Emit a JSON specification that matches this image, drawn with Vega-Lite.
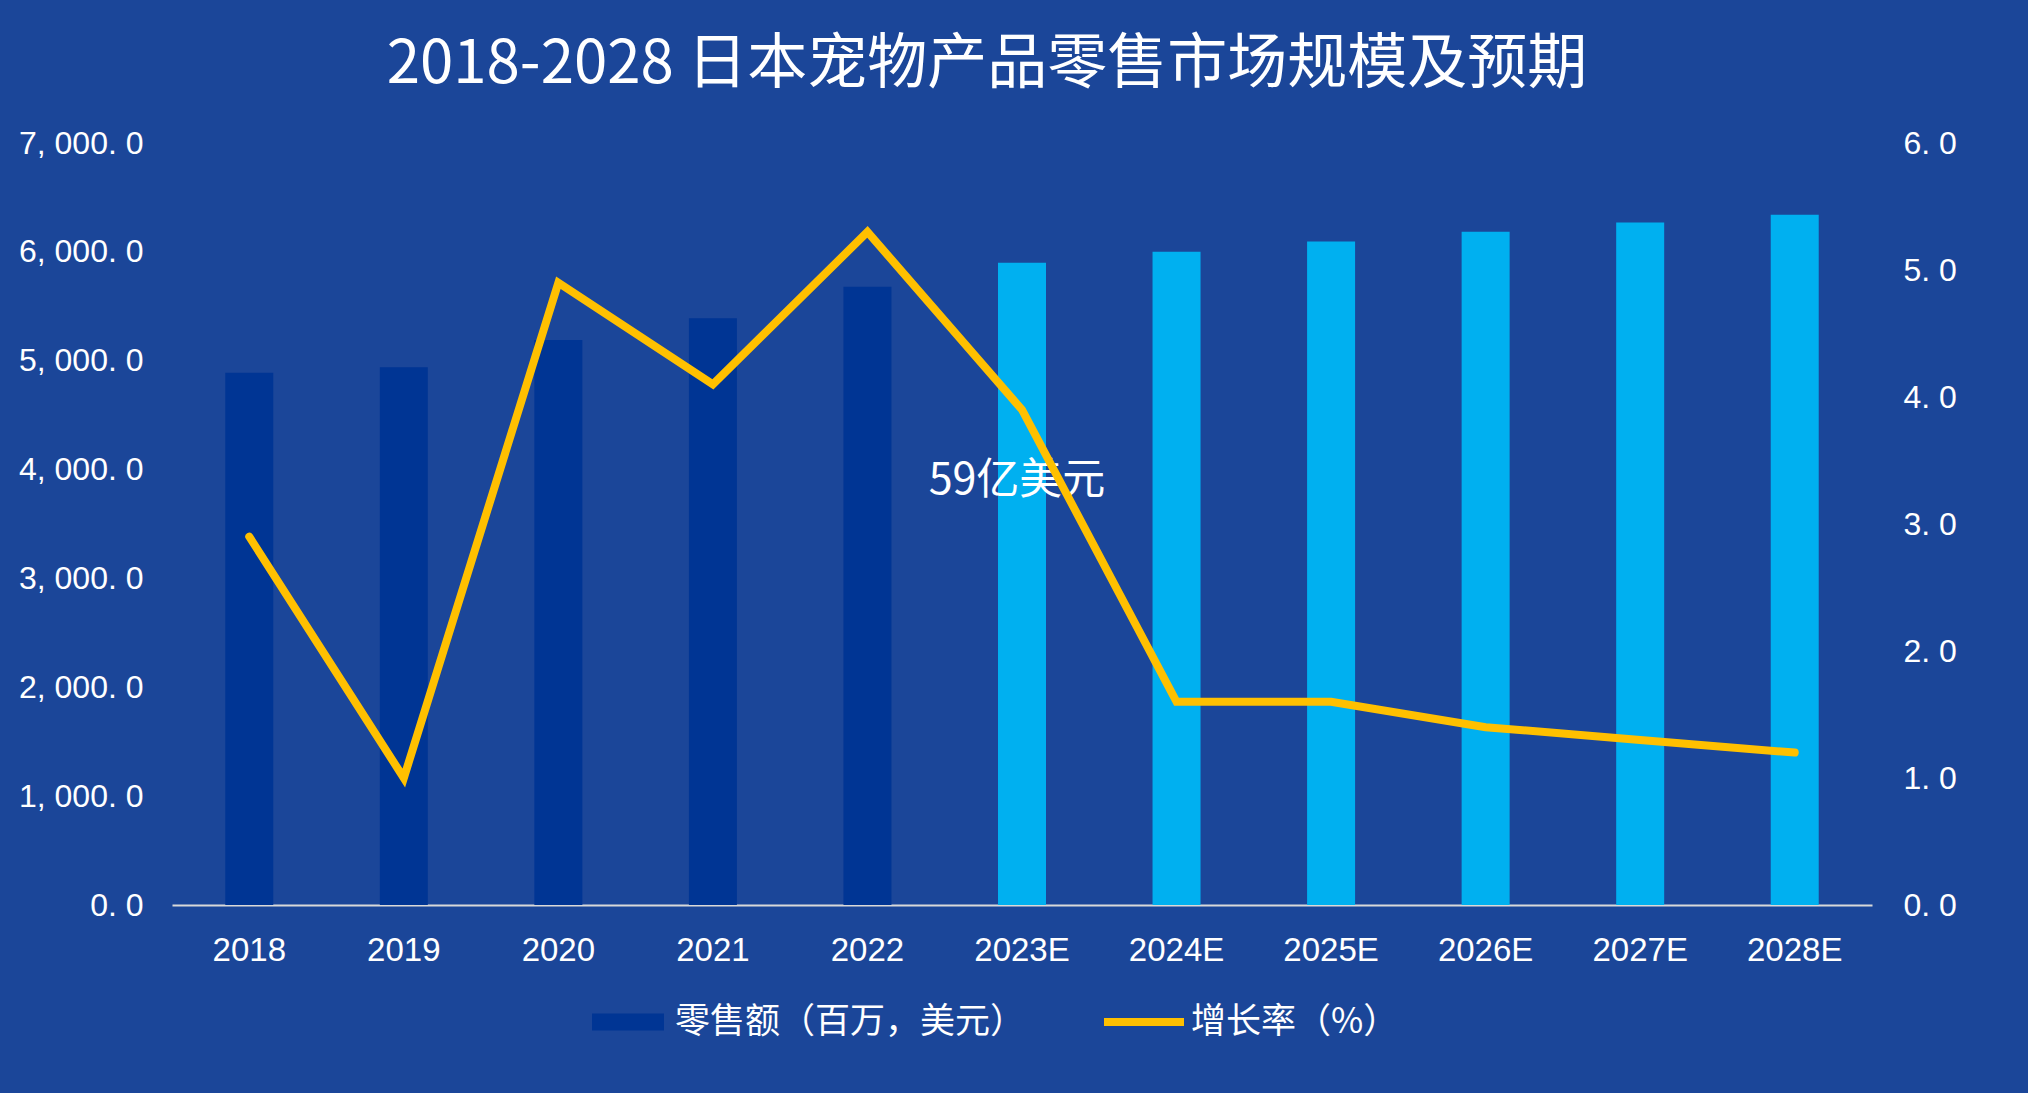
{
  "$schema": "https://vega.github.io/schema/vega-lite/v6.json",
  "width": 1700,
  "height": 762,
  "autosize": {"type": "none"},
  "padding": {"left": 172, "top": 143, "right": 156, "bottom": 188},
  "background": "#1B4699",
  "config": {
    "view": {"stroke": null},
    "font": "Noto Sans CJK SC"
  },
  "title": {
    "text": "2018-2028  日本宠物产品零售市场规模及预期",
    "font": "Noto Sans CJK SC",
    "fontSize": 60,
    "fontWeight": "normal",
    "color": "#FFFFFF",
    "anchor": "middle",
    "frame": "group",
    "dx": -35,
    "offset": 31
  },
  "data": {
    "values": [
      {"year": "2018", "sales": 4890, "growth": 2.9, "series": "零售额（百万，美元）"},
      {"year": "2019", "sales": 4940, "growth": 1.0, "series": "零售额（百万，美元）"},
      {"year": "2020", "sales": 5190, "growth": 4.9, "series": "零售额（百万，美元）"},
      {"year": "2021", "sales": 5390, "growth": 4.1, "series": "零售额（百万，美元）"},
      {"year": "2022", "sales": 5680, "growth": 5.3, "series": "零售额（百万，美元）"},
      {"year": "2023E", "sales": 5900, "growth": 3.9, "series": "预测", "label": "59亿美元"},
      {"year": "2024E", "sales": 6000, "growth": 1.6, "series": "预测"},
      {"year": "2025E", "sales": 6095, "growth": 1.6, "series": "预测"},
      {"year": "2026E", "sales": 6185, "growth": 1.4, "series": "预测"},
      {"year": "2027E", "sales": 6270, "growth": 1.3, "series": "预测"},
      {"year": "2028E", "sales": 6340, "growth": 1.2, "series": "预测"}
    ]
  },
  "encoding": {
    "x": {
      "field": "year",
      "type": "ordinal",
      "sort": null,
      "scale": {"paddingInner": 0, "paddingOuter": 0},
      "axis": {
        "title": null,
        "labelAngle": 0,
        "labelFont": "Liberation Sans",
        "labelFontSize": 33,
        "labelColor": "#FFFFFF",
        "labelPadding": 29,
        "ticks": false,
        "domainColor": "#D9D9D9",
        "domainWidth": 2,
        "grid": false
      }
    }
  },
  "layer": [
    {
      "layer": [
        {
          "mark": {"type": "bar", "size": 48},
          "encoding": {
            "y": {
              "field": "sales",
              "type": "quantitative",
              "scale": {"domain": [0, 7000], "nice": false},
              "axis": {
                "title": null,
                "values": [0, 1000, 2000, 3000, 4000, 5000, 6000, 7000],
                "labelExpr": "replace(replace(format(datum.value, ',.1f'), ',', ', '), '.', '. ')",
                "labelFont": "Liberation Sans",
                "labelFontSize": 32,
                "labelColor": "#FFFFFF",
                "labelPadding": 29,
                "ticks": false,
                "domain": false,
                "grid": false
              }
            },
            "color": {
              "field": "series",
              "type": "nominal",
              "scale": {
                "domain": ["零售额（百万，美元）", "增长率（%）", "预测"],
                "range": ["#003594", "#FFC000", "#00B0F0"]
              },
              "legend": {
                "title": null,
                "orient": "none",
                "direction": "horizontal",
                "legendX": 416,
                "legendY": 839,
                "values": ["零售额（百万，美元）", "增长率（%）"],
                "labelFont": "Noto Sans CJK SC",
                "labelFontSize": 35,
                "labelColor": "#FFFFFF",
                "labelLimit": 0,
                "labelOffset": 7,
                "columnPadding": 78,
                "symbolSize": 6400,
                "encode": {
                  "symbols": {
                    "update": {
                      "shape": {"signal": "datum.value === '增长率（%）' ? 'M-1,-0.1H1V0.1H-1Z' : 'M-0.9,-0.21H0.9V0.21H-0.9Z'"},
                      "fill": {"signal": "datum.value === '增长率（%）' ? '#FFC000' : '#003594'"},
                      "stroke": {"value": "transparent"},
                      "strokeWidth": {"value": 0},
                      "opacity": {"value": 1}
                    }
                  }
                }
              }
            }
          }
        },
        {
          "transform": [{"filter": "datum.label != null"}],
          "mark": {"type": "text", "font": "Noto Sans CJK SC", "fontSize": 43, "color": "#FFFFFF", "dy": 218, "dx": -5},
          "encoding": {
            "y": {"field": "sales", "type": "quantitative"},
            "text": {"field": "label"}
          }
        }
      ]
    },
    {
      "mark": {"type": "line", "strokeWidth": 8, "strokeCap": "round", "strokeJoin": "miter", "color": "#FFC000"},
      "encoding": {
        "y": {
          "field": "growth",
          "type": "quantitative",
          "scale": {"domain": [0, 6], "nice": false},
          "axis": {
            "title": null,
            "orient": "right",
            "values": [0, 1, 2, 3, 4, 5, 6],
            "labelExpr": "replace(format(datum.value, '.1f'), '.', '. ')",
            "labelFont": "Liberation Sans",
            "labelFontSize": 32,
            "labelColor": "#FFFFFF",
            "labelPadding": 31,
            "ticks": false,
            "domain": false,
            "grid": false
          }
        }
      }
    }
  ],
  "resolve": {"scale": {"y": "independent"}}
}
